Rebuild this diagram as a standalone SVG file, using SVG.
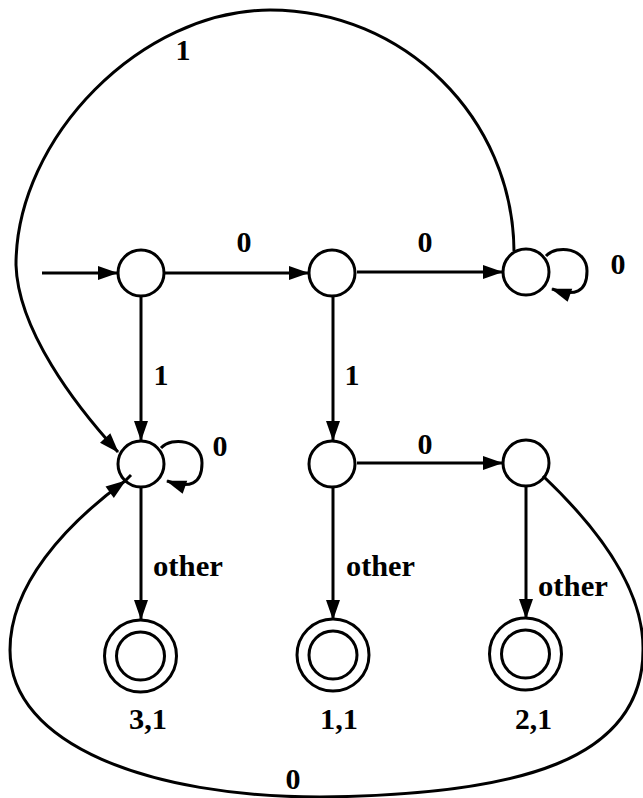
<svg xmlns="http://www.w3.org/2000/svg" width="643" height="798" viewBox="0 0 643 798">
<style>
.st{fill:none;stroke:#000;stroke-width:3}
.ed{fill:none;stroke:#000;stroke-width:3}
</style>
<defs>
<marker id="ah" markerUnits="userSpaceOnUse" markerWidth="20" markerHeight="14" viewBox="0 0 20 14" refX="19" refY="7" orient="auto" overflow="visible">
<path d="M0,0 L20,7 L0,14 z" fill="#000"/>
</marker>
</defs>
<rect width="643" height="798" fill="#fff"/>
<g id="connectors">
<path class="ed" d="M42,273 L117,273" marker-end="url(#ah)"/>
<path class="ed" d="M165,273 L308,273" marker-end="url(#ah)"/>
<path class="ed" d="M357,272 L502,272" marker-end="url(#ah)"/>
<path class="ed" d="M357,463 L502,463" marker-end="url(#ah)"/>
<path class="ed" d="M141,297 L141,440" marker-end="url(#ah)"/>
<path class="ed" d="M333,296 L333,440" marker-end="url(#ah)"/>
<path class="ed" d="M141,488 L141,619" marker-end="url(#ah)"/>
<path class="ed" d="M333,487 L333,619" marker-end="url(#ah)"/>
<path class="ed" d="M526,486 L526,618" marker-end="url(#ah)"/>
<path class="ed" d="M161,448 C172,436 202,440 202,463 C202,484 190,489 167,481" marker-end="url(#ah)"/>
<path class="ed" d="M546,256 C557,244 587,248 587,271 C587,292 575,297 552,289" marker-end="url(#ah)"/>
<path class="ed" d="M514,251 C513,118 404,10 270,10 C142,10 16,137 16,265 C18,330 75,405 118,452" marker-end="url(#ah)"/>
<path class="ed" d="M543,476 C600,530 644,590 643,650 C643,760 520,795 320,797 C150,797 10,745 10,650 C10,585 65,525 125,481" marker-end="url(#ah)"/>
<path class="ed" d="M124,482 L131,475"/>
</g>
<g id="n1"><circle class="st" cx="141" cy="273" r="23"/></g>
<g id="n2"><circle class="st" cx="332" cy="273" r="23"/></g>
<g id="n3"><circle class="st" cx="526" cy="272" r="23"/></g>
<g id="n4"><circle class="st" cx="141" cy="464" r="23"/></g>
<g id="n5"><circle class="st" cx="332" cy="464" r="23"/></g>
<g id="n6"><circle class="st" cx="526" cy="463" r="23"/></g>
<g font-family="Liberation Serif, Times New Roman, serif" font-size="30" font-weight="bold" fill="#000">
<g id="f31"><circle class="st" cx="140.5" cy="656" r="36"/><circle class="st" cx="140.5" cy="656" r="24"/><text x="129" y="729" textLength="38" lengthAdjust="spacingAndGlyphs">3,1</text></g>
<g id="f11"><circle class="st" cx="333" cy="655" r="36"/><circle class="st" cx="333" cy="655" r="24"/><text x="320" y="729" textLength="38" lengthAdjust="spacingAndGlyphs">1,1</text></g>
<g id="f21"><circle class="st" cx="525.5" cy="654" r="36"/><circle class="st" cx="525.5" cy="654" r="24"/><text x="515" y="729" textLength="37" lengthAdjust="spacingAndGlyphs">2,1</text></g>
<g id="labels" text-anchor="middle">
<text x="183" y="60">1</text>
<text x="244" y="252">0</text>
<text x="425" y="252">0</text>
<text x="618" y="274">0</text>
<text x="161" y="385">1</text>
<text x="352" y="385">1</text>
<text x="220" y="456">0</text>
<text x="425" y="454">0</text>
<text x="293" y="789">0</text>
</g>
<g id="other-labels">
<text x="153" y="576" textLength="70" lengthAdjust="spacingAndGlyphs">other</text>
<text x="346" y="576" textLength="69" lengthAdjust="spacingAndGlyphs">other</text>
<text x="538" y="596" textLength="70" lengthAdjust="spacingAndGlyphs">other</text>
</g>
</g>
</svg>
